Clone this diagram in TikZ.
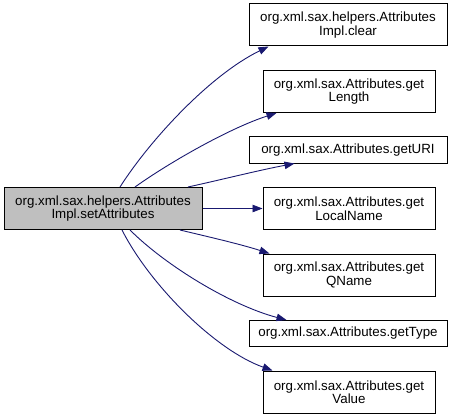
\documentclass[tikz,border=0pt]{standalone}
\usepackage{fontspec}
\setmainfont{Liberation Sans}
\usetikzlibrary{arrows.meta}
\definecolor{edgeblue}{HTML}{191970}
\definecolor{srcgray}{HTML}{BFBFBF}
\begin{document}
\begin{tikzpicture}[x=1pt,y=-1pt,
  box/.style={draw=black,line width=1pt,fill=white,inner sep=0pt,align=center,
    font=\fontsize{13.33}{13.5}\selectfont},
  wide2/.style={box,minimum width=198pt,minimum height=42pt},
  wide1/.style={box,minimum width=198pt,minimum height=26pt},
  narrow2/.style={box,minimum width=172pt,minimum height=42pt},
  edge/.style={draw=edgeblue,line width=0.9pt,-{Triangle[length=10pt,width=7.5pt]}}]
\useasboundingbox (0,0) rectangle (455,417);
\node[wide2,fill=srcgray] (src) at (103,208.5) {org.xml.sax.helpers.Attributes\\Impl.setAttributes};
\node[wide2] (clear) at (348,25) {org.xml.sax.helpers.Attributes\\Impl.clear};
\node[narrow2] (len) at (349,91.5) {org.xml.sax.Attributes.get\\Length};
\node[wide1] (uri) at (348,150) {org.xml.sax.Attributes.getURI};
\node[narrow2] (lname) at (349,208.5) {org.xml.sax.Attributes.get\\LocalName};
\node[narrow2] (qname) at (349,275) {org.xml.sax.Attributes.get\\QName};
\node[wide1] (type) at (348,333.5) {org.xml.sax.Attributes.getType};
\node[narrow2] (val) at (349,392) {org.xml.sax.Attributes.get\\Value};
\draw[edge] ([xshift=17pt]src.north) .. controls (150,140) and (210,75) .. ([xshift=20pt]clear.south west);
\draw[edge] ([xshift=32pt]src.north) .. controls (170,162) and (230,128) .. ([xshift=14pt]len.south west);
\draw[edge] ([xshift=85pt]src.north) .. controls (220,180) and (260,170) .. ([xshift=46pt]uri.south west);
\draw[edge] (src.east) -- (lname.west);
\draw[edge] ([xshift=77pt]src.south) .. controls (205,236) and (240,244) .. ([xshift=7pt]qname.north west);
\draw[edge] ([xshift=27pt]src.south) .. controls (165,265) and (230,305) .. ([xshift=38pt]type.north west);
\draw[edge] ([xshift=19pt]src.south) .. controls (150,285) and (215,350) .. ([xshift=10pt]val.north west);
\end{tikzpicture}
\end{document}
